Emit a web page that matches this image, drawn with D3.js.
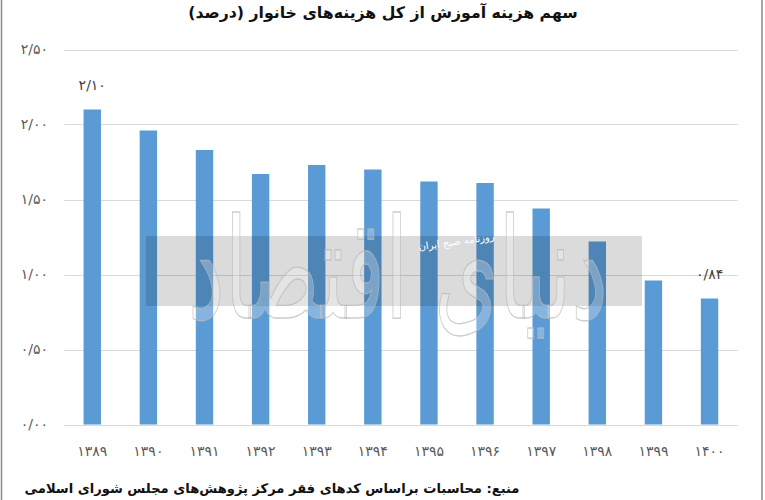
<!DOCTYPE html>
<html><head><meta charset="utf-8">
<script src="https://cdn.jsdelivr.net/npm/d3@7"></script>
<style>html,body{margin:0;padding:0;background:#fff;}svg{display:block;}</style>
</head><body>
<script>
const titleText = "سهم هزینه آموزش از کل هزینه‌های خانوار (درصد)";
const sourceText = "منبع: محاسبات براساس کدهای فقر مرکز پژوهش‌های مجلس شورای اسلامی";
const years = ["1389","1390","1391","1392","1393","1394","1395","1396","1397","1398","1399","1400"];
const values = [2.10, 1.96, 1.83, 1.67, 1.73, 1.70, 1.62, 1.61, 1.44, 1.22, 0.96, 0.84];
const yTicks = [0, 0.5, 1, 1.5, 2, 2.5];
const labeledYears = ["1389", "1400"];

const W = 765, H = 500;
const fa = s => String(s).replace(/[0-9]/g, d => "۰۱۲۳۴۵۶۷۸۹"[+d]).replace(/\./g, "/");
const fmt = v => fa(d3.format(".2f")(v));

const svg = d3.select("body").append("svg").attr("width", W).attr("height", H);
const FONT = "DejaVu Sans, sans-serif";

function fitText(sel, target) {
  const w = sel.node().getComputedTextLength();
  const fs = parseFloat(sel.attr("font-size"));
  sel.attr("font-size", fs * target / w);
}

const x = d3.scaleBand().domain(years).range([64.2, 737.6]).paddingInner(0.69).paddingOuter(0.345);
const y = d3.scaleLinear().domain([0, 2.5]).range([424.5, 49.5]);

// frame
svg.append("line").attr("x1",1.5).attr("x2",1.5).attr("y1",0).attr("y2",H).attr("stroke","#8a8a8a").attr("stroke-width",1.5);
svg.append("line").attr("x1",762).attr("x2",762).attr("y1",0).attr("y2",H).attr("stroke","#8a8a8a").attr("stroke-width",1.5);

// gridlines
svg.append("g").selectAll("line").data(yTicks).join("line")
  .attr("x1", x.range()[0]).attr("x2", x.range()[1])
  .attr("y1", d => Math.round(y(d)) + 0.5).attr("y2", d => Math.round(y(d)) + 0.5)
  .attr("stroke", "#d9d9d9").attr("stroke-width", 1);

// y labels
svg.append("g").selectAll("text").data(yTicks).join("text")
  .attr("x", 48).attr("y", d => y(d)).attr("dy", "0.35em")
  .attr("text-anchor", "end").attr("font-family", FONT).attr("font-size", 14)
  .attr("fill", "#595959").text(d => fmt(d));

// bars
svg.append("g").selectAll("rect").data(years).join("rect")
  .attr("x", d => x(d)).attr("width", x.bandwidth())
  .attr("y", (d, i) => y(values[i])).attr("height", (d, i) => y(0) - y(values[i]))
  .attr("fill", "#5b9bd5");

// data labels
svg.append("g").selectAll("text").data(labeledYears).join("text")
  .attr("x", d => x(d) + x.bandwidth() / 2)
  .attr("y", d => y(values[years.indexOf(d)]) - 20)
  .attr("text-anchor", "middle").attr("font-family", FONT).attr("font-size", 14)
  .attr("fill", "#404040").text(d => fmt(values[years.indexOf(d)]));

// x labels
svg.append("g").selectAll("text").data(years).join("text")
  .attr("x", d => x(d) + x.bandwidth() / 2).attr("y", 451).attr("dy", "0.35em")
  .attr("text-anchor", "middle").attr("font-family", FONT).attr("font-size", 14)
  .attr("fill", "#595959").text(d => fa(d));

// watermark
const wm = svg.append("g");
wm.append("rect").attr("x", 146).attr("y", 236).attr("width", 496).attr("height", 70)
  .attr("fill", "#000").attr("opacity", 0.14);
const wmt = wm.append("text").attr("x", 0).attr("y", 0).attr("text-anchor", "middle")
  .attr("font-family", FONT).attr("font-size", 100)
  .attr("direction", "rtl")
  .attr("fill", "#fff").attr("fill-opacity", 0.25)
  .attr("stroke", "#b8b8b8").attr("stroke-opacity", 0.7).attr("stroke-width", 0.8)
  .text("دنیای اقتصاد");
fitText(wmt, 420);
wmt.attr("transform", "translate(398,318) scale(1,1.7)");
wm.append("text").attr("x", 457).attr("y", 245).attr("text-anchor", "middle")
  .attr("transform", "rotate(-8,457,245)")
  .attr("font-family", FONT).attr("font-size", 10).attr("direction", "rtl")
  .attr("fill", "#fff").text("روزنامه صبح ایران");

// title
const t = svg.append("text").attr("x", 383).attr("y", 18).attr("text-anchor", "middle")
  .attr("direction", "rtl").attr("font-family", FONT).attr("font-weight", "bold")
  .attr("font-size", 20).attr("fill", "#111").text(titleText);
fitText(t, 390);

// source
const s = svg.append("text").attr("x", 272).attr("y", 493).attr("text-anchor", "middle")
  .attr("direction", "rtl").attr("font-family", FONT).attr("font-weight", "bold")
  .attr("font-size", 16).attr("fill", "#111").text(sourceText);
fitText(s, 495);
</script>
</body></html>
